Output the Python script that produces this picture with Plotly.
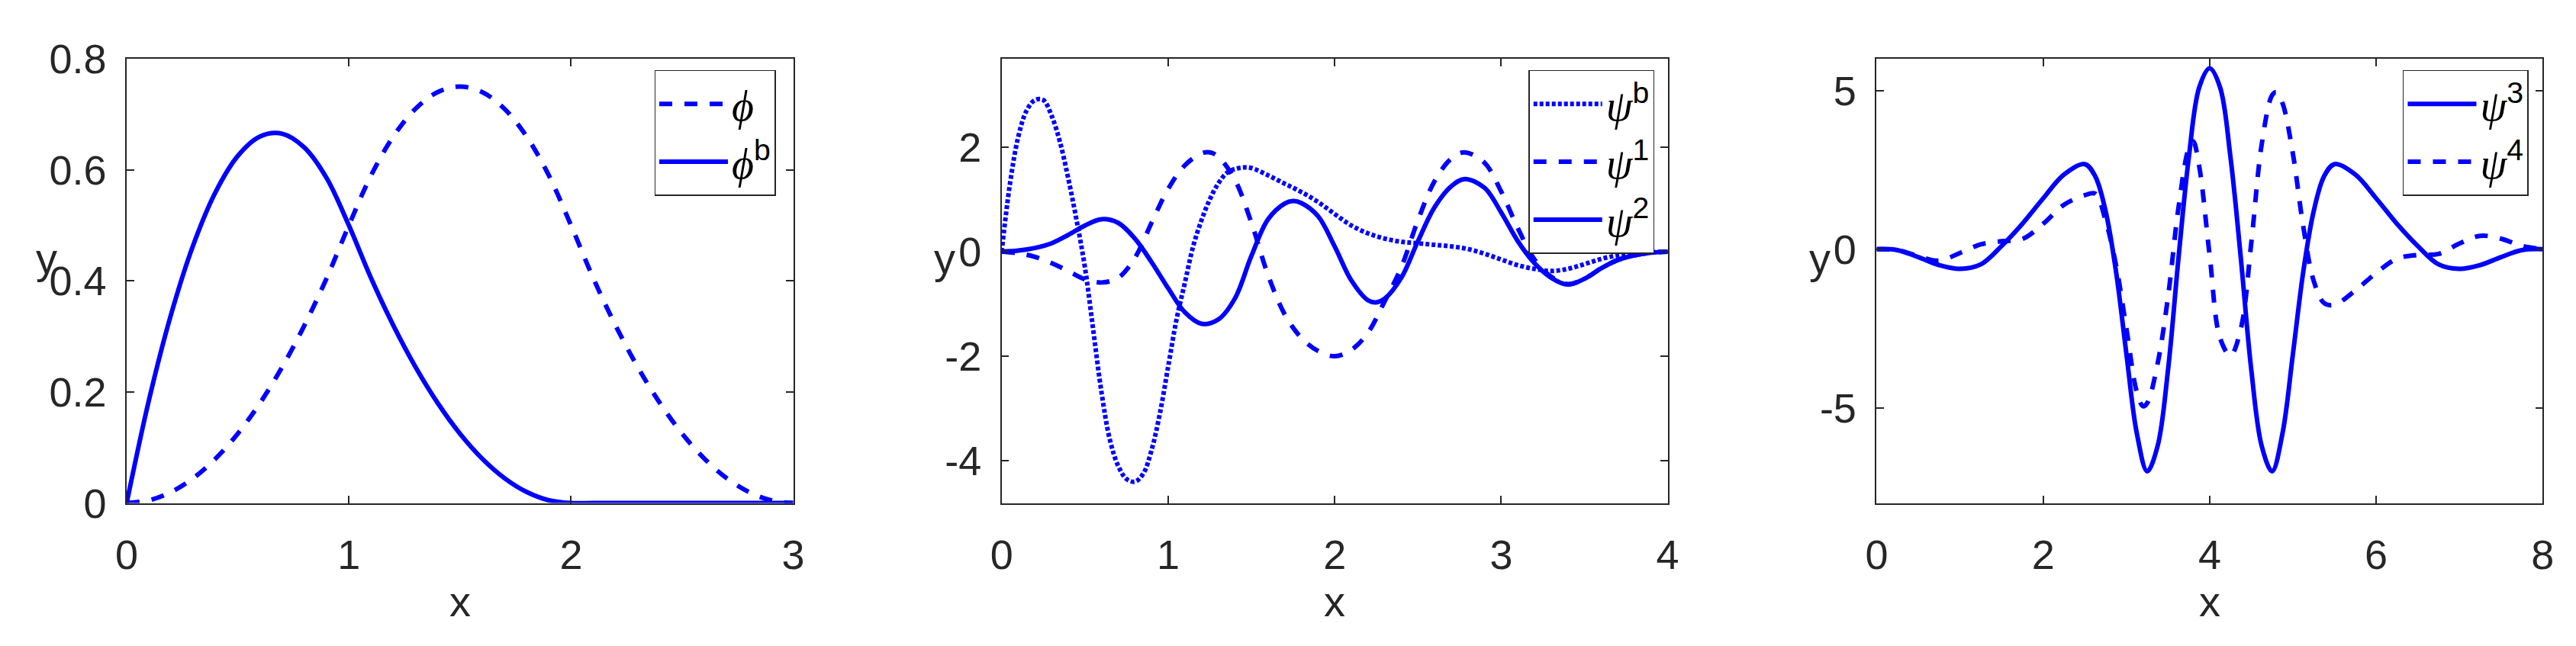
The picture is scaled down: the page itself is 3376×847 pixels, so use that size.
import plotly.graph_objects as go
from plotly.subplots import make_subplots

# panel 1: scaling functions
x_phi = [0.0, 0.1, 0.2, 0.3, 0.4, 0.5, 0.6, 0.7, 0.8, 0.9, 1.0, 1.1, 1.2, 1.3, 1.4, 1.5,
         1.6, 1.7, 1.8, 1.9, 2.0, 2.1, 2.2, 2.3, 2.4, 2.5, 2.6, 2.7, 2.8, 2.9, 3.0]
phi = [0.0, 0.005, 0.02, 0.045, 0.08, 0.125, 0.18, 0.245, 0.32, 0.405, 0.5, 0.59, 0.66, 0.71, 0.74, 0.75,
       0.74, 0.71, 0.66, 0.59, 0.5, 0.405, 0.32, 0.245, 0.18, 0.125, 0.08, 0.045, 0.02, 0.005, 0.0]
phi_b = [0.0, 0.185, 0.34, 0.465, 0.56, 0.625, 0.66, 0.665, 0.64, 0.585, 0.5, 0.405, 0.32, 0.245, 0.18, 0.125,
         0.08, 0.045, 0.02, 0.005, 0.0, 0.0, 0.0, 0.0, 0.0, 0.0, 0.0, 0.0, 0.0, 0.0, 0.0]

# panel 2: wavelets on [0, 4]
x_psib = [0.0, 0.05, 0.1, 0.15, 0.2, 0.25, 0.3, 0.35, 0.4, 0.45, 0.5, 0.55, 0.6, 0.65, 0.7, 0.75, 0.8,
          0.85, 0.9, 0.95, 1.0, 1.05, 1.1, 1.15, 1.2, 1.25, 1.3, 1.35, 1.4, 1.45, 1.5, 1.6, 1.7, 1.8,
          1.9, 2.0, 2.1, 2.2, 2.3, 2.4, 2.5, 2.6, 2.7, 2.8, 2.9, 3.0, 3.1, 3.2, 3.3, 3.4, 3.5, 3.6,
          3.7, 3.8, 3.9, 4.0]
psi_b = [0.0, 1.3, 2.2, 2.7, 2.9, 2.9, 2.6, 2.1, 1.4, 0.6, -0.3, -1.5, -2.7, -3.6, -4.1, -4.35, -4.4,
         -4.25, -3.8, -3.1, -2.2, -1.3, -0.6, 0.1, 0.6, 1.0, 1.3, 1.5, 1.58, 1.61, 1.6, 1.46, 1.3, 1.14,
         0.95, 0.72, 0.5, 0.35, 0.25, 0.19, 0.16, 0.13, 0.1, 0.05, -0.04, -0.15, -0.26, -0.33, -0.37,
         -0.33, -0.24, -0.14, -0.07, -0.03, -0.01, 0.0]

x_psi1 = [0.0, 0.1, 0.2, 0.3, 0.4, 0.5, 0.6, 0.7, 0.8, 0.9, 1.0, 1.1, 1.2, 1.25, 1.3, 1.4, 1.5, 1.6,
          1.7, 1.8, 1.9, 2.0, 2.1, 2.2, 2.3, 2.4, 2.5, 2.6, 2.7, 2.78, 2.9, 3.0, 3.1, 3.2, 3.3, 3.4,
          3.5, 3.6, 3.7, 3.8, 3.9, 4.0]
psi_1 = [0.0, -0.03, -0.1, -0.22, -0.37, -0.53, -0.59, -0.5, -0.12, 0.55, 1.2, 1.65, 1.88, 1.9, 1.82,
         1.38, 0.55, -0.45, -1.2, -1.65, -1.9, -2.0, -1.88, -1.55, -0.95, -0.3, 0.6, 1.35, 1.78, 1.9,
         1.7, 1.15, 0.45, -0.15, -0.48, -0.62, -0.52, -0.32, -0.16, -0.07, -0.02, 0.0]

x_psi2 = [0.0, 0.1, 0.2, 0.3, 0.4, 0.5, 0.6, 0.7, 0.8, 0.9, 1.0, 1.1, 1.2, 1.3, 1.4, 1.5, 1.6, 1.7,
          1.75, 1.8, 1.9, 2.0, 2.1, 2.2, 2.25, 2.3, 2.4, 2.5, 2.6, 2.7, 2.78, 2.9, 3.0, 3.1, 3.2,
          3.3, 3.4, 3.5, 3.6, 3.7, 3.8, 3.9, 4.0]
psi_2 = [0.0, 0.02, 0.07, 0.16, 0.32, 0.5, 0.62, 0.55, 0.25, -0.2, -0.7, -1.16, -1.38, -1.3, -0.9,
         -0.08, 0.62, 0.92, 0.97, 0.93, 0.68, 0.1, -0.55, -0.93, -0.97, -0.9, -0.5, 0.2, 0.85, 1.25,
         1.39, 1.22, 0.75, 0.2, -0.22, -0.5, -0.63, -0.52, -0.32, -0.16, -0.07, -0.02, 0.0]

# panel 3: wavelets on [0, 8]
x_psi3 = [0.0, 0.25, 0.5, 0.75, 1.0, 1.25, 1.5, 1.75, 2.0, 2.25, 2.5, 2.625, 2.75, 2.875, 3.0, 3.125,
          3.25, 3.375, 3.5, 3.625, 3.75, 3.875, 4.0, 4.125, 4.25, 4.375, 4.5, 4.625, 4.75, 4.875,
          5.0, 5.125, 5.25, 5.375, 5.5, 5.75, 6.0, 6.25, 6.5, 6.75, 7.0, 7.25, 7.5, 7.75, 8.0]
psi_3 = [0.0, -0.03, -0.25, -0.5, -0.62, -0.48, 0.1, 0.8, 1.6, 2.35, 2.68, 2.3, 1.2, -0.7, -3.3, -5.8,
         -7.0, -6.2, -3.8, -0.3, 2.9, 5.1, 5.7, 5.1, 2.9, -0.3, -3.8, -6.2, -7.0, -5.8,
         -3.3, -0.7, 1.2, 2.3, 2.68, 2.35, 1.6, 0.8, 0.1, -0.48, -0.62, -0.5, -0.25, -0.03, 0.0]

x_psi4 = [0.0, 0.25, 0.5, 0.75, 1.0, 1.25, 1.5, 1.75, 2.0, 2.25, 2.5, 2.625, 2.75, 2.875, 3.0, 3.125,
          3.2, 3.25, 3.375, 3.5, 3.625, 3.75, 3.8, 3.875, 4.0, 4.125, 4.25, 4.375, 4.5, 4.625, 4.75,
          4.8, 4.875, 5.0, 5.125, 5.25, 5.375, 5.5, 5.75, 6.0, 6.25, 6.5, 6.75, 7.0, 7.25, 7.5,
          7.75, 8.0]
psi_4 = [0.0, -0.03, -0.22, -0.36, -0.12, 0.15, 0.25, 0.32, 0.8, 1.4, 1.7, 1.75, 0.9, -0.5, -2.5, -4.5,
         -4.95, -4.85, -3.6, -1.5, 1.3, 3.2, 3.4, 2.6, -0.2, -2.8, -3.35, -2.5, 0.2, 3.3, 4.85,
         4.95, 4.6, 3.0, 0.7, -1.0, -1.7, -1.75, -1.3, -0.75, -0.3, -0.18, -0.15, 0.18, 0.42, 0.33,
         0.1, 0.0]

BLUE = "#0000ff"
INK = "#262626"
W, H = 3376, 847


def greek(sym, sup=""):
    s = '<span style="font-family:Liberation Serif"><i>%s</i></span>' % sym
    if sup:
        s += "<sup>%s</sup>" % sup
    return s


fig = make_subplots(rows=1, cols=3)

traces = [
    (x_phi, phi, "dash", greek("ϕ"), 1, "legend"),
    (x_phi, phi_b, "solid", greek("ϕ", "b"), 1, "legend"),
    (x_psib, psi_b, "dot", greek("ψ", "b"), 2, "legend2"),
    (x_psi1, psi_1, "dash", greek("ψ", "1"), 2, "legend2"),
    (x_psi2, psi_2, "solid", greek("ψ", "2"), 2, "legend2"),
    (x_psi3, psi_3, "solid", greek("ψ", "3"), 3, "legend3"),
    (x_psi4, psi_4, "dash", greek("ψ", "4"), 3, "legend3"),
]
dash_map = {"solid": "solid", "dash": "17px,16px", "dot": "5px,3px"}
for xs, ys, d, name, col, lg in traces:
    fig.add_trace(
        go.Scatter(x=xs, y=ys, mode="lines", name=name, legend=lg,
                   line=dict(color=BLUE, width=6, dash=dash_map[d], shape="spline", smoothing=1.0)),
        row=1, col=col
    )

# axes placement (pixel boxes from the reference)
boxes = [(144.3, 1025.7), (1301.3, 2182.0), (2458.3, 3339.0)]
ydom = [1 - 669 / H, 1 - 42 / H]
xranges = [[0, 3], [0, 4], [0, 8]]
xticks = [[0, 1, 2, 3], [0, 1, 2, 3, 4], [0, 2, 4, 6, 8]]
yranges = [[0, 0.8], [-4.81, 3.69], [-8, 6]]
yticks = [[0, 0.2, 0.4, 0.6, 0.8], [-4, -2, 0, 2], [-5, 0, 5]]
ytext = [["0", "0.2", "0.4", "0.6", "0.8"], ["-4", "-2", "0", "2"], ["-5", "0", "5"]]

axis_style = dict(showline=True, linecolor=INK, linewidth=1.5, mirror="ticks", ticks="inside",
                  ticklen=10, tickcolor=INK, tickwidth=1.5, showgrid=False, zeroline=False,
                  tickfont=dict(family="Liberation Sans", size=54, color=INK))
for i in range(3):
    fig.update_xaxes(domain=[boxes[i][0] / W, boxes[i][1] / W], range=xranges[i],
                     tickvals=xticks[i], ticklabelstandoff=20, row=1, col=i + 1, **axis_style)
    fig.update_yaxes(domain=ydom, range=yranges[i], tickvals=yticks[i], ticktext=ytext[i],
                     ticklabelstandoff=14, row=1, col=i + 1, **axis_style)

# axis labels
label_font = dict(family="Liberation Sans", size=56, color=INK)
ylab_x = [38, 1226, 2383]
for i in range(3):
    fig.add_annotation(text="x", xref="paper", yref="paper", x=(boxes[i][0] + boxes[i][1]) / 2 / W,
                       y=1 - 808 / H, showarrow=False, font=label_font, xanchor="center", yanchor="middle")
    fig.add_annotation(text="y", xref="paper", yref="paper", x=ylab_x[i] / W, y=1 - 323 / H,
                       showarrow=False, font=label_font, xanchor="center", yanchor="middle")

legend_style = dict(bgcolor="white", bordercolor=INK, borderwidth=1.5, xanchor="left", yanchor="top",
                    font=dict(family="Liberation Sans", size=56, color="black"), itemwidth=90,
                    tracegroupgap=0)
fig.update_layout(
    width=W, height=H,
    margin=dict(l=0, r=0, t=0, b=0),
    plot_bgcolor="white", paper_bgcolor="white",
    legend=dict(x=842 / W, y=1 - 58 / H, **legend_style),
    legend2=dict(x=1998 / W, y=1 - 58 / H, **legend_style),
    legend3=dict(x=3154 / W, y=1 - 58 / H, **legend_style),
)

fig.write_html("out.html")
